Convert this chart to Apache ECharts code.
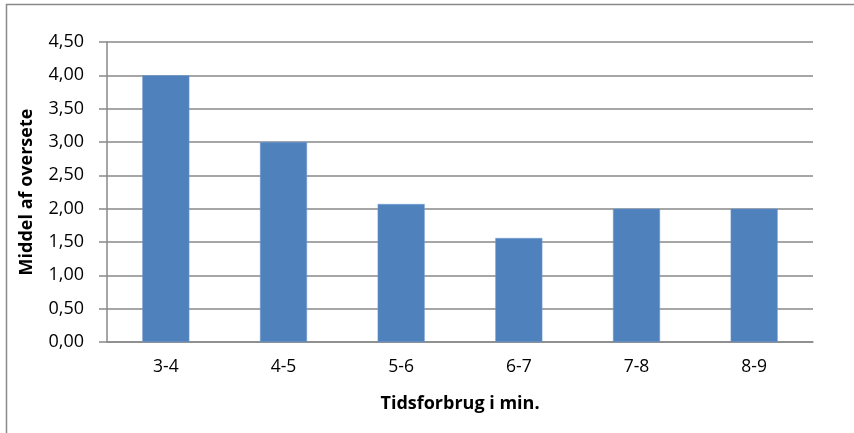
<!DOCTYPE html>
<html>
<head>
<meta charset="utf-8">
<script src="https://cdn.jsdelivr.net/npm/echarts@6/dist/echarts.min.js"></script>
<style>
  html, body { margin: 0; padding: 0; background: #fff; }
  #chart { width: 854px; height: 433px; }
</style>
</head>
<body>
<div id="chart"></div>
<script>
// Mean overlooked items per time bracket
const categories = ['3-4', '4-5', '5-6', '6-7', '7-8', '8-9'];
const values = [4.00, 3.00, 2.07, 1.56, 2.00, 2.00];
const yTicks = { min: 0, max: 4.5, interval: 0.5 };

const font = 'Open Sans, Noto Sans, sans-serif';
const gridColor = '#898989';

const chart = echarts.init(document.getElementById('chart'), null, { renderer: 'canvas' });
chart.setOption({
  animation: false,
  backgroundColor: '#ffffff',
  graphic: [{
    type: 'rect',
    shape: { x: 6.5, y: 4.5, width: 900, height: 600 },
    style: { fill: 'none', stroke: '#8a8a8a', lineWidth: 1.5 },
    silent: true
  }],
  grid: { left: 107, right: 41, top: 42, bottom: 91 },
  xAxis: {
    type: 'category',
    data: categories,
    name: 'Tidsforbrug i min.',
    nameLocation: 'middle',
    nameGap: 53,
    nameTextStyle: { fontFamily: font, fontSize: 18, fontWeight: 'bold', color: '#000' },
    axisLine: { lineStyle: { color: gridColor, width: 1.5 } },
    axisTick: { show: false },
    axisLabel: { fontFamily: font, fontSize: 17.5, color: '#000', margin: 16 }
  },
  yAxis: {
    type: 'value',
    min: yTicks.min,
    max: yTicks.max,
    interval: yTicks.interval,
    name: 'Middel af oversete',
    nameLocation: 'middle',
    nameGap: 71,
    nameTextStyle: { fontFamily: font, fontSize: 18, fontWeight: 'bold', color: '#000' },
    axisLine: { show: true, lineStyle: { color: gridColor, width: 1.5 } },
    axisTick: { show: true, length: 8, lineStyle: { color: gridColor, width: 1.5 } },
    splitLine: { lineStyle: { color: gridColor, width: 1.5 } },
    axisLabel: {
      fontFamily: font, fontSize: 18, color: '#000', margin: 23,
      formatter: v => v.toFixed(2).replace('.', ',')
    }
  },
  series: [{
    type: 'bar',
    data: values,
    barWidth: 47,
    itemStyle: { color: '#4F81BD', borderColor: '#6f9bd0', borderWidth: 0.5 }
  }]
});
</script>
</body>
</html>
